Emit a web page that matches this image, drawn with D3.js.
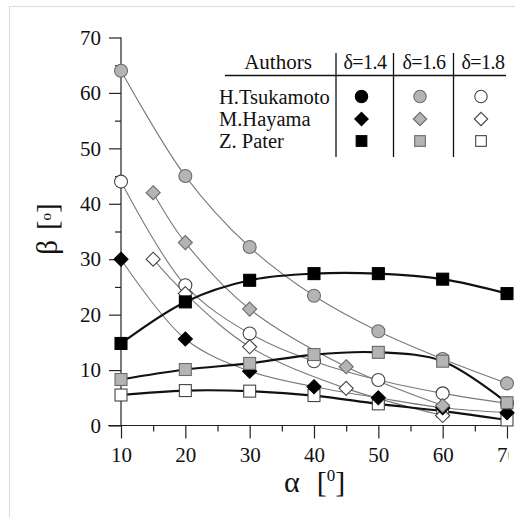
<!DOCTYPE html>
<html><head><meta charset="utf-8">
<script src="https://cdn.jsdelivr.net/npm/d3@7"></script>
<style>html,body{margin:0;padding:0;background:#fff}svg{display:block}svg text{font-family:"Liberation Serif","Times New Roman",serif !important;fill:#111}</style>
</head><body>
<svg id="chart" width="523" height="517"></svg>
<script>
// ---- data ----
const xTicks = [10, 20, 30, 40, 50, 60, 70];
const xTickLabels = ["10", "20", "30", "40", "50", "60", "70"];
const yTicks = [0, 10, 20, 30, 40, 50, 60, 70];
const authors = ["H.Tsukamoto", "M.Hayama", "Z. Pater"];
const deltas = ["δ=1.4", "δ=1.6", "δ=1.8"];

const alphaA = [10, 20, 30, 40, 50, 60, 70];
const alphaHay = [15, 20, 30, 45, 60];

const tsu16 = [64.0, 45.0, 32.2, 23.4, 17.0, 12.0, 7.6];
const tsu18 = [44.0, 25.3, 16.6, 11.6, 8.2, 5.8, 4.0];
const hay14 = [30.0, 15.6, 9.8, 7.0, 5.0, 3.2, 2.3];
const hay16 = [42.0, 33.0, 21.0, 10.6, 3.6];
const hay18 = [30.0, 23.8, 14.2, 6.7, 1.8];
const pat14 = [14.8, 22.3, 26.2, 27.4, 27.4, 26.4, 23.8];
const pat16 = [8.3, 10.1, 11.2, 12.8, 13.2, 11.6, 4.1];
const pat18 = [5.5, 6.3, 6.2, 5.4, 3.9, 2.6, 1.0];

// ---- styles ----
const SERIF = '"Liberation Serif","Times New Roman",serif';
const GRAYF = "#b4b4b4", GRAYS = "#6a6a6a";
const series = [
  {name:"tsu18", x:alphaA, y:tsu18, shape:"circle", fill:"#fff", stroke:"#444", thick:false},
  {name:"pat18", x:alphaA, y:pat18, shape:"square", fill:"#fff", stroke:"#444", thick:true},
  {name:"hay18", x:alphaHay, y:hay18, shape:"diamond", fill:"#fff", stroke:"#444", thick:false},
  {name:"hay14", x:alphaA, y:hay14, shape:"diamond", fill:"#000", stroke:"#000", thick:false},
  {name:"tsu16", x:alphaA, y:tsu16, shape:"circle", fill:GRAYF, stroke:GRAYS, thick:false},
  {name:"hay16", x:alphaHay, y:hay16, shape:"diamond", fill:GRAYF, stroke:GRAYS, thick:false},
  {name:"pat16", x:alphaA, y:pat16, shape:"square", fill:GRAYF, stroke:GRAYS, thick:true},
  {name:"pat14", x:alphaA, y:pat14, shape:"square", fill:"#000", stroke:"#000", thick:true}
];

const svg = d3.select("#chart");
const defs = svg.append("defs");
defs.append("clipPath").attr("id","crop")
  .append("rect").attr("x",0).attr("y",0).attr("width",515).attr("height",517);
defs.append("clipPath").attr("id","cropLbl")
  .append("rect").attr("x",0).attr("y",0).attr("width",508.5).attr("height",517);
const root = svg.append("g").attr("clip-path","url(#crop)");

// frame
root.append("rect").attr("x",9.5).attr("y",6.5).attr("width",600).attr("height",600)
  .attr("fill","none").attr("stroke","#dcdcdc").attr("stroke-width",1);

const x = d3.scaleLinear().domain([10,70]).range([121,507]);
const y = d3.scaleLinear().domain([0,70]).range([425.5,37.5]);

// axes
const gx = root.append("g").attr("transform",`translate(0,${y(0)})`);
gx.append("line").attr("x1",108).attr("x2",x(70)).attr("y1",0).attr("y2",0).attr("stroke","#222").attr("stroke-width",1.2);
{
  const ax = d3.axisBottom(x).tickValues(d3.range(15,70,10)).tickSize(6).tickFormat("");
  const gm = gx.append("g").call(ax); gm.select(".domain").remove();
  gm.selectAll("line").attr("stroke","#222").attr("stroke-width",1.2);
  const axM = d3.axisBottom(x).tickValues(xTicks).tickSize(13).tickPadding(9)
    .tickFormat((d,i)=>xTickLabels[i]);
  const gM = gx.append("g").attr("clip-path","url(#cropLbl)").call(axM); gM.select(".domain").remove();
  gM.attr("font-family", SERIF);
  gM.selectAll("line").attr("stroke","#222").attr("stroke-width",1.2);
  gM.selectAll("text").attr("font-size",21).style("font-family",SERIF).attr("fill","#111");
}

const gy = root.append("g").attr("transform",`translate(${x(10)},0)`);
gy.append("line").attr("x1",0).attr("x2",0).attr("y1",y(70)).attr("y2",y(0)).attr("stroke","#222").attr("stroke-width",1.2);
{
  const ax = d3.axisLeft(y).tickValues(d3.range(5,70,10)).tickSize(6).tickFormat("");
  const gm = gy.append("g").call(ax); gm.select(".domain").remove();
  gm.selectAll("line").attr("stroke","#222").attr("stroke-width",1.2);
  const axM = d3.axisLeft(y).tickValues(yTicks).tickSize(12).tickPadding(8).tickFormat(d3.format("d"));
  const gM = gy.append("g").call(axM); gM.select(".domain").remove();
  gM.attr("font-family", SERIF);
  gM.selectAll("line").attr("stroke","#222").attr("stroke-width",1.2);
  gM.selectAll("text").attr("font-size",21).style("font-family",SERIF).attr("fill","#111");
}

// axis titles
const xt = root.append("text").attr("x",284).attr("y",492).attr("font-size",30);
xt.append("tspan").text("α");
xt.append("tspan").attr("dx",17).text("[");
xt.append("tspan").attr("font-size",17).attr("dy",-11).text("0");
xt.append("tspan").attr("dy",11).text("]");

const yt = root.append("text").attr("transform","translate(57,229) rotate(-90)")
  .attr("text-anchor","middle").attr("font-size",29);
yt.append("tspan").text("β");
yt.append("tspan").attr("dx",10).text("[");
yt.append("tspan").attr("font-size",15).attr("dy",-6).text("o");
yt.append("tspan").attr("dy",6).text("]");

// lines
const line = d3.line().curve(d3.curveCatmullRom.alpha(0.5));
const gl = root.append("g");
series.filter(s=>!s.thick).forEach(s=>{
  gl.append("path").attr("d", line(s.x.map((a,i)=>[x(a), y(s.y[i])])))
    .attr("fill","none").attr("stroke","#7a7a7a").attr("stroke-width",1.1);
});
series.filter(s=>s.thick).forEach(s=>{
  gl.append("path").attr("d", line(s.x.map((a,i)=>[x(a), y(s.y[i])])))
    .attr("fill","none").attr("stroke","#111").attr("stroke-width",2.2);
});

function drawMarker(g, shape, cx, cy, fill, stroke, r){
  let el;
  if(shape==="circle"){
    el = g.append("circle").attr("cx",cx).attr("cy",cy).attr("r",r);
  } else if(shape==="square"){
    el = g.append("rect").attr("x",cx-r*0.92).attr("y",cy-r*0.92).attr("width",r*1.84).attr("height",r*1.84);
  } else {
    const d = r*1.08;
    el = g.append("path").attr("d",`M${cx},${cy-d}L${cx+d},${cy}L${cx},${cy+d}L${cx-d},${cy}Z`);
  }
  el.attr("fill",fill).attr("stroke",stroke).attr("stroke-width",1.1);
}

const gm = root.append("g");
series.forEach(s=>{
  s.x.forEach((a,i)=>drawMarker(gm, s.shape, x(a), y(s.y[i]), s.fill, s.stroke, 6.5));
});

// legend table
const lg = root.append("g");
lg.append("text").attr("x",278).attr("y",69).attr("text-anchor","middle").attr("font-size",21).text("Authors");
const colX = [365, 424, 483];
const mkX = [361.5, 420, 481];
deltas.forEach((d,i)=>lg.append("text").attr("x",colX[i]).attr("y",69).attr("text-anchor","middle")
  .attr("font-size",20).attr("letter-spacing",-0.5).text(d));
lg.append("line").attr("x1",225).attr("x2",506).attr("y1",75.5).attr("y2",75.5).attr("stroke","#111").attr("stroke-width",1.3);
[336, 393.5, 453.5].forEach(vx=>lg.append("line").attr("x1",vx).attr("x2",vx).attr("y1",53).attr("y2",157)
  .attr("stroke","#111").attr("stroke-width",1.3));
const rowY = [96.5, 119, 141];
authors.forEach((a,i)=>lg.append("text").attr("x",219).attr("y",rowY[i]+7).attr("font-size",20.5).text(a));
const shapes = ["circle","diamond","square"];
const fills = [["#000","#000"],[GRAYF,GRAYS],["#fff","#444"]];
shapes.forEach((sh,i)=>{
  fills.forEach((f,j)=>drawMarker(lg, sh, mkX[j], rowY[i], f[0], f[1], sh==="square"?5.8:6.2));
});
</script>
</body></html>
